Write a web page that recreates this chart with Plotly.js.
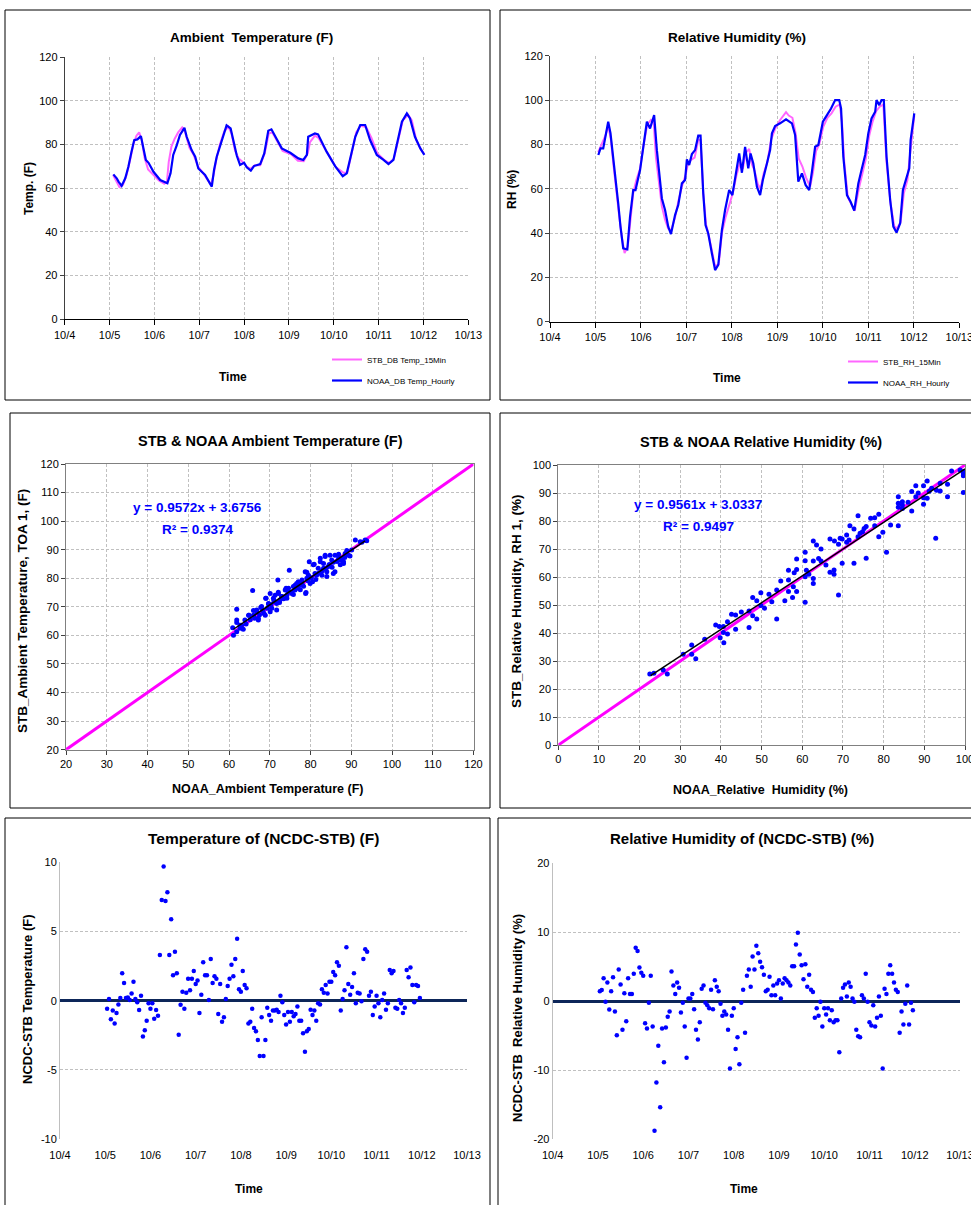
<!DOCTYPE html>
<html><head><meta charset="utf-8">
<script src="https://cdn.plot.ly/plotly-3.0.1.min.js"></script>
<style>html,body{margin:0;padding:0;background:#fff;}</style>
</head><body><div id="chart" style="width:971px;height:1205px;"></div>
<script>
// ---------- DATA ----------
const dayTickVals = [4,5,6,7,8,9,10,11,12,13];
const dayTickText = ['10/4','10/5','10/6','10/7','10/8','10/9','10/10','10/11','10/12','10/13'];

// Ambient temperature, NOAA hourly (time in days of October, value F)
const noaaTempT = [5.085,5.16,5.20,5.27,5.35,5.42,5.49,5.55,5.62,5.70,5.74,5.81,5.87,5.98,6.13,6.29,6.36,6.42,6.50,6.57,6.67,6.72,6.83,6.91,6.98,7.13,7.28,7.33,7.39,7.47,7.54,7.61,7.70,7.76,7.84,7.91,8.00,8.06,8.15,8.22,8.36,8.45,8.54,8.61,8.73,8.84,9.03,9.21,9.32,9.40,9.43,9.58,9.65,9.73,9.84,10.03,10.20,10.29,10.38,10.48,10.59,10.70,10.81,10.96,11.11,11.22,11.33,11.41,11.52,11.63,11.70,11.81,11.93,12.02];
const noaaTempV = [66.3,64.5,63,61,64.5,69.8,76.7,82,82.3,83.8,79.7,72.9,71.6,67.5,63.7,62.2,66.8,75.2,79.7,84.3,87.6,83.5,77.4,74.4,69,66,60.7,68.3,74.4,79.7,83.5,88.7,87.3,82,74.7,70.6,71.6,69.5,68,70.1,71,75.9,86.3,86.9,82.3,78.2,76.2,73.6,72.9,75.2,83.5,85,84.6,81.3,76.7,70.1,65.5,66.8,74.4,83.5,88.9,88.9,82,75.2,72.9,71,72.9,79.7,90.4,94.2,91.9,83.5,78.2,75.2];
// Ambient temperature, STB 15-min
const stbTempT = [5.08,5.15,5.22,5.30,5.38,5.46,5.53,5.60,5.66,5.72,5.78,5.86,5.95,6.10,6.22,6.28,6.32,6.38,6.45,6.53,6.62,6.68,6.78,6.88,6.97,7.10,7.26,7.32,7.38,7.46,7.56,7.65,7.72,7.80,7.88,7.97,8.05,8.14,8.24,8.36,8.46,8.55,8.63,8.74,8.86,9.05,9.20,9.33,9.42,9.47,9.58,9.66,9.76,9.86,10.05,10.22,10.30,10.40,10.50,10.60,10.72,10.84,10.97,11.12,11.24,11.34,11.43,11.54,11.66,11.74,11.84,11.95,12.02];
const stbTempV = [66,63.5,60.5,61.5,66,73,80,84,85.5,82,74,68.5,66.5,63.5,62,63,72,79,82.5,85.5,87.8,86,78.5,75,70,66.5,61.5,66,73,80,86,88.2,85,77,73.5,72,70,68.8,70.5,70.5,76,85,85.5,81.5,77,75.5,72.5,72.3,76,81,84,83,79.5,76,69.5,67,67,76,85.5,88.5,88,83,76,73,71.5,73.5,81,91,93.5,91,82,77.5,75.5];

// Relative humidity, NOAA hourly
const noaaRhT = [5.063,5.11,5.17,5.22,5.28,5.33,5.39,5.45,5.50,5.55,5.61,5.70,5.76,5.83,5.88,5.98,6.05,6.13,6.20,6.24,6.29,6.35,6.40,6.46,6.53,6.60,6.66,6.75,6.82,6.90,6.97,7.01,7.06,7.12,7.19,7.26,7.31,7.37,7.42,7.48,7.56,7.63,7.70,7.78,7.85,7.94,8.01,8.09,8.16,8.22,8.29,8.36,8.41,8.47,8.55,8.62,8.68,8.77,8.84,8.88,8.95,9.06,9.19,9.32,9.39,9.46,9.54,9.62,9.70,9.76,9.83,9.90,10.00,10.09,10.18,10.27,10.36,10.40,10.45,10.53,10.61,10.69,10.78,10.85,10.93,11.00,11.07,11.15,11.18,11.24,11.29,11.34,11.40,11.48,11.55,11.62,11.70,11.76,11.84,11.90,11.93,12.01];
const noaaRhV = [75.2,78.2,78.2,83.5,90.2,85,74.4,62.4,53.4,42.9,33.1,32.6,47.4,59.4,59.4,68.4,78.9,90.2,87.2,89.5,93.2,77.4,68.4,55.6,50.4,42.9,39.5,48.1,52.6,62.4,63.9,73.2,70.7,75.6,77.4,83.9,83.9,57.9,43.6,39.8,30.8,23.3,25.6,41.4,50.4,59.4,57.1,66.9,75.9,67.2,78.9,69.2,75.9,71.4,60.9,57.1,63.9,71.4,77.4,85,88.3,89.5,91.3,89.5,84.2,63.2,66.9,61.7,59.4,67.7,78.9,79.7,90.2,93.2,96.2,100,100,96.2,74.4,57.1,54.1,50.1,62.4,68.4,75.2,85,91.7,94.7,100,97.7,100,100,74.4,54.9,42.9,40.2,44.4,59.4,64.7,69.2,82,94];
// Relative humidity, STB 15-min
const stbRhT = [5.06,5.13,5.22,5.28,5.34,5.40,5.46,5.52,5.58,5.64,5.71,5.77,5.83,5.90,5.98,6.06,6.14,6.22,6.28,6.33,6.39,6.46,6.53,6.60,6.66,6.75,6.83,6.90,6.98,7.03,7.10,7.18,7.26,7.31,7.37,7.43,7.50,7.57,7.63,7.71,7.78,7.86,7.94,8.02,8.10,8.18,8.24,8.30,8.38,8.44,8.50,8.57,8.63,8.70,8.78,8.86,8.95,9.06,9.19,9.25,9.33,9.40,9.47,9.55,9.63,9.72,9.78,9.85,9.92,10.01,10.10,10.19,10.28,10.37,10.42,10.47,10.55,10.63,10.70,10.79,10.87,10.94,11.02,11.09,11.17,11.25,11.33,11.40,11.49,11.57,11.63,11.71,11.78,11.86,11.93,12.01];
const stbRhV = [76.5,80,84,88.5,82,70,58,48,38,31,34,47,58,64,69,80,89,91,90,74,63,52,46,42,41,47,55,61,66,71,73,74,82,82,58,44,38,31,25,26,40,47,52,58,66,72,69,76,78,71,68,62,60,67,72,82,87,91,94.5,93,92,85,73.5,70,65,61,67,77,80,88,92,94,97,98,90,72,56,53,50,60,67,73,84,90,95,97,98,72,53,43,42,45,58,64,78,93];

// Scatter: NOAA (x) vs STB (y) ambient temperature, F
const tempPairs = [[60.9,62.7],[61.1,60.1],[61.9,69.2],[61.9,65.4],[61.9,64.5],[62.7,62.5],[63.1,63.6],[63.9,65.4],[64.8,67.1],[65.8,75.7],[66.0,68.7],[66.8,68.3],[67.2,66],[67.8,69.8],[68.6,67.7],[69.1,73],[69.7,71],[70.1,74.7],[70.1,68.3],[71.3,74.1],[71.7,71.2],[72.1,75.1],[72.9,73.6],[74.0,76.5],[74.2,73],[74.8,82.8],[75.4,75.1],[76.2,77.6],[77.0,78.8],[77.9,78.2],[78.9,75],[79.1,82.1],[79.7,85.8],[79.9,78.2],[80.9,84.9],[81.5,81.1],[82.4,85.8],[83.2,83.5],[83.6,87.6],[84.0,80.6],[84.8,88.1],[85.6,85.6],[86.0,82.3],[86.9,88.4],[87.7,87],[88.1,85.8],[88.9,89.7],[91.0,93.4],[92.6,92.6],[93.8,93.1],
[61.9,61.3],[62.7,63.6],[64.9,67.1],[66,67.1],[66.8,68.9],[67.2,65.4],[68.0,70.1],[68.9,67.1],[69,73],[69.7,71.2],[70.5,69.5],[70.9,73],[71.3,71.8],[71.7,68.9],[72,79.4],[72.1,74.7],[72.5,72.4],[73,73.6],[73.8,75.9],[74.2,74.1],[74.6,76.5],[75.4,74.7],[75.8,77.1],[76.2,75.9],[76.6,78.2],[77.4,77.6],[77.9,79.4],[78.7,82.3],[78.8,74.7],[79.1,80],[79.5,81.1],[80.5,78.8],[80.7,84.7],[81.1,81.7],[81.9,83.5],[82.4,87],[82.8,81.1],[83.2,85.2],[83.6,88.1],[84,82.3],[84.4,84.1],[85.2,86.4],[85.6,81.7],[86,88.1],[86.9,87],[87.3,84.7],[88.1,85.2],[88.5,88.7],[89.3,88.1],[90.1,89.9],[92.2,92.8],[93.4,93.4],
[63.5,62.2],[64.2,64],[65.2,65.5],[66.3,66],[67.5,67.2],[68.3,68.6],[69.4,69.5],[70.3,70.8],[71.0,72.2],[72.4,71.5],[73.4,72.8],[74.5,75.3],[75.8,74.3],[76.8,76.5],[77.5,76],[78.3,77.2],[79.4,79.1],[80.2,80.2],[81.3,79.6],[82.0,81.8],[82.9,82.6],[83.8,83.3],[84.6,84.8],[85.3,83.9],[86.5,85.9],[87.5,86.3],[88.4,87.3],[89.7,87.8]];
// Scatter: NOAA (x) vs STB (y) relative humidity, %
const rhPairs = [[22.5,25.4],[23.5,25.6],[25.8,26.8],[26.8,25.4],[30.7,32.4],[32.8,35.7],[32.8,32.4],[33.8,30.8],[38.7,42.9],[39.6,42.3],[39.8,38.3],[40.6,42.3],[40.6,40.2],[40.7,36.5],[41.6,44],[41.6,39.6],[42.6,46.7],[43.6,46.4],[43.6,41.3],[46.9,47.9],[46.9,42],[47.8,52.7],[47.8,46.2],[48.8,51.5],[48.8,45],[49.8,54.4],[49.8,49.8],[50.7,48.8],[51.8,53.8],[53.7,55.4],[53.7,45],[54.7,58.6],[55.7,51.5],[56.6,62.4],[56.6,58.9],[56.6,54.8],[57.6,52.7],[57.8,56.5],[58.6,66.4],[58.6,62.7],[58.6,54.8],[60.7,68.8],[60.7,65.8],[60.7,60.1],[60.7,51],[61.6,61],[62.7,72.9],[62.7,65.7],[62.7,59.5],[62.7,57.7],[63.5,71.4],[64.6,70],[64.6,65.7],[65.8,64.3],[66.8,73.6],[66.8,61.7],[67.8,61],[67.9,72.9],[68.9,71.7],[68.9,53.6],[69.8,73.6],[69.8,64.9],[70.9,72.4],[70.9,75],[71.7,78.3],[72.7,77.1],[72.7,64.9],[73.7,81.9],[73.7,74.4],[74.8,76.2],[75.7,78],[75.7,66.7],[76.8,81],[77.8,81.2],[77.8,78.3],[78.8,82.4],[78.8,74.4],[79.8,76],[80.7,68.8],[81.7,78.6],[83.6,88.7],[83.6,86.3],[83.6,78.3],[84.6,86.9],[84.6,84.5],[86.9,90.5],[86.9,83.6],[87.9,92.6],[87.9,88.7],[89.8,92.6],[89.8,86],[90.7,94.3],[90.7,88.1],[91.8,91.7],[92.8,73.8],[93.9,93.5],[93.9,90.7],[95.7,88.7],[95.7,93.1],[96.7,97.9],[99.6,97],[99.6,96.2],[99.6,90.2],[84.6,85.7],[89.8,88.3],[93,91],[98.8,98.2],[67.8,62.5],[69.3,73.8],[71.5,73.2],[74.2,75.6],[75.2,77.3],[58.0,61.5],[61.0,62.4],[64.0,66.6],[52.5,51.2],[45.0,47.5],[36.0,37.8],[83.6,84.9],[86.0,86.7],[88.5,90.0],[91.2,90.6],[99.6,97.6]];

// Regression results shown on the charts
const tempFit = {slope:0.9572, intercept:3.6756, r2:0.9374, xmin:61.1, xmax:93.4};
const rhFit = {slope:0.9561, intercept:3.0337, r2:0.9497, xmin:22.7, xmax:100};

// Differences NCDC - STB, hourly starting 10/5 01:00
const diffStartDay = 5 + 1/24;
const tempDiff = [-0.58,0.12,-1.35,-0.72,-1.66,-0.89,-0.27,0.19,1.98,1.28,0.19,0.22,0.05,0.51,1.37,0.12,-0.12,-0.67,0.36,-2.6,-2.14,-1.45,-0.19,-0.58,-0.19,-1.3,-0.67,-1.1,3.3,7.28,9.69,7.2,7.83,3.3,5.88,1.83,3.54,1.98,-2.46,-0.29,0.65,-0.58,0.58,1.59,0.75,1.59,2.14,1.2,1.45,-0.89,0.43,2.77,1.83,1.83,0.05,3.01,1.28,1.76,1.59,-0.96,1.2,-1.52,-1.2,0.12,1.06,1.59,2.6,1.76,3.01,4.48,0.82,0.65,2.14,1.13,0.89,-1.66,-1.52,-0.58,-1.98,-2.22,-2.84,-4.0,-1.2,-4.0,-2.84,-0.51,-1.04,-1.45,-0.72,-0.72,-0.65,-0.82,0.36,-0.12,-1.04,-1.73,-0.82,-1.52,-0.82,-1.13,-0.96,-0.43,-1.45,-1.45,-2.36,-3.69,-2.22,-2.05,-0.65,-1.04,-0.72,-1.45,-0.19,-0.27,0.82,0.58,1.13,0.51,1.37,1.37,2.07,1.83,2.77,2.53,-0.72,0.12,0.75,3.86,1.2,0.43,0.99,1.98,-0.19,0.58,0.51,-0.05,3.01,3.71,3.54,0.36,0.65,-1.04,-0.43,0.36,-0.19,-1.2,0.05,0.51,-0.65,-0.19,2.22,1.98,2.14,-0.51,-0.58,0.05,-0.19,-0.89,-0.51,2.22,1.69,2.39,1.13,-0.12,1.13,1.06,0.19];
const rhDiff = [1.45,1.6,3.34,-0.1,2.71,-1.21,1.45,3.48,-1.5,-4.93,4.6,2.42,-4.16,1.16,-2.9,3.34,1.02,1.02,3.97,7.74,7.26,4.89,4.11,3.68,-3.19,-3.97,-0.24,3.68,-3.68,-18.8,-11.8,-6.48,-15.4,-3.97,-8.85,-3.82,-2.27,-1.5,4.3,2.27,1.02,2.71,1.93,-1.64,-0.24,-3.68,-8.22,0.39,0.39,1.02,-1.16,-4.16,-5.56,-3.05,1.79,2.27,-0.24,-0.58,-1.02,1.64,-1.16,3.05,2.08,1.45,-0.39,-2.13,-1.5,-1.93,-4.16,-9.77,-2.13,-1.02,-6.96,-5.22,-9.14,-0.24,1.64,-4.6,3.68,4.6,2.08,6.48,4.6,8.03,6.96,5.71,4.93,3.82,1.45,1.64,3.53,0.87,2.27,0.87,2.56,3.05,0.39,2.56,3.34,3.05,2.71,2.27,5.08,5.08,8.22,9.92,6.77,5.22,3.19,5.37,2.08,3.82,1.64,1.31,-2.42,-1.02,-2.13,-0.1,-3.68,-1.02,-1.93,-1.02,-2.76,-1.31,-3.05,-2.76,-2.76,-7.4,0.39,1.93,2.42,0.68,2.71,2.08,0.39,-0.1,-4.16,-5.08,-5.22,0.87,0.39,3.97,-0.1,-3.05,-3.53,-0.58,-3.68,-2.42,0.68,-2.13,-9.77,1.79,1.02,3.97,5.22,3.97,2.71,1.64,1.31,-4.6,-1.5,-3.39,-0.39,2.27,-3.39,-0.24,-1.31];

const tempDiffTicks = [-10,-5,0,5,10];
const tempDiffTickText = ['-10','-5','0','5','10'];
const rhDiffTicks = [-20,-10,0,10,20];
const rhDiffTickText = ['-20','-10','0','10','20'];

// ---------- BUILD ----------
const W = 971, H = 1205;
const FONT = 'Liberation Sans, Arial, sans-serif';
const px = v => v / W;
const py = v => 1 - v / H;
const BLUE = '#0000ff', PINK = '#ff66ff', MAG = '#ff00ff';
const GRID = '#c0c0c0';

const diffTimesT = tempDiff.map((_, i) => diffStartDay + i / 24);
const diffTimesR = rhDiff.map((_, i) => diffStartDay + i / 24);

const traces = [
  {x: stbTempT, y: stbTempV, type:'scatter', mode:'lines', line:{color:PINK, width:2}, name:'STB_DB Temp_15Min', xaxis:'x', yaxis:'y', legend:'legend', legendgroup:'a'},
  {x: noaaTempT, y: noaaTempV, type:'scatter', mode:'lines', line:{color:BLUE, width:2.2}, name:'NOAA_DB Temp_Hourly', xaxis:'x', yaxis:'y', legend:'legend', legendgroup:'b'},
  {x: stbRhT, y: stbRhV, type:'scatter', mode:'lines', line:{color:PINK, width:2}, name:'STB_RH_15Min', xaxis:'x2', yaxis:'y2', legend:'legend2', legendgroup:'c'},
  {x: noaaRhT, y: noaaRhV, type:'scatter', mode:'lines', line:{color:BLUE, width:2.2}, name:'NOAA_RH_Hourly', xaxis:'x2', yaxis:'y2', legend:'legend2', legendgroup:'d'},
  // panel 3
  {x:[20,120], y:[20,120], type:'scatter', mode:'lines', line:{color:MAG, width:3}, showlegend:false, xaxis:'x3', yaxis:'y3'},
  {x: tempPairs.map(p=>p[0]), y: tempPairs.map(p=>p[1]), type:'scatter', mode:'markers', marker:{color:BLUE, size:5}, showlegend:false, xaxis:'x3', yaxis:'y3'},
  {x:[tempFit.xmin, tempFit.xmax], y:[tempFit.slope*tempFit.xmin+tempFit.intercept, tempFit.slope*tempFit.xmax+tempFit.intercept], type:'scatter', mode:'lines', line:{color:'#000', width:1.5}, showlegend:false, xaxis:'x3', yaxis:'y3'},
  // panel 4
  {x:[0,100], y:[0,100], type:'scatter', mode:'lines', line:{color:MAG, width:3}, showlegend:false, xaxis:'x4', yaxis:'y4'},
  {x: rhPairs.map(p=>p[0]), y: rhPairs.map(p=>p[1]), type:'scatter', mode:'markers', marker:{color:BLUE, size:5}, showlegend:false, xaxis:'x4', yaxis:'y4'},
  {x:[rhFit.xmin, rhFit.xmax], y:[rhFit.slope*rhFit.xmin+rhFit.intercept, rhFit.slope*rhFit.xmax+rhFit.intercept], type:'scatter', mode:'lines', line:{color:'#000', width:1.5}, showlegend:false, xaxis:'x4', yaxis:'y4'},
  // panel 5, 6
  {x: diffTimesT, y: tempDiff, type:'scatter', mode:'markers', marker:{color:BLUE, size:4.5}, showlegend:false, xaxis:'x5', yaxis:'y5'},
  {x: diffTimesR, y: rhDiff, type:'scatter', mode:'markers', marker:{color:BLUE, size:4.5}, showlegend:false, xaxis:'x6', yaxis:'y6'}
];

const tickFont = {family:FONT, size:11, color:'#000'};
function timeAxis(domain, anchor, extra) {
  return Object.assign({domain, anchor, range:[4,13], tickmode:'array', tickvals:dayTickVals, ticktext:dayTickText,
    showgrid:true, gridcolor:GRID, griddash:'3px,2px', gridwidth:1, zeroline:false,
    showline:true, linecolor:'#000', linewidth:1, ticks:'outside', ticklen:5, tickcolor:'#000',
    tickfont:tickFont, ticklabeloverflow:'allow', fixedrange:true}, extra||{});
}
function valAxis(domain, anchor, range, dtick, extra) {
  return Object.assign({domain, anchor, range, dtick, tick0:0, tickmode:'linear',
    showgrid:true, gridcolor:GRID, griddash:'3px,2px', gridwidth:1, zeroline:false,
    showline:true, linecolor:'#404040', linewidth:1, ticks:'outside', ticklen:4, tickcolor:'#404040',
    tickfont:tickFont, ticklabeloverflow:'allow', fixedrange:true}, extra||{});
}

const layout = {
  width: W, height: H, margin:{l:0,r:0,t:0,b:0}, paper_bgcolor:'#fff', plot_bgcolor:'rgba(0,0,0,0)',
  font:{family:FONT, color:'#000'},
  xaxis: timeAxis([px(64.7), px(468.3)], 'y'),
  yaxis: valAxis([py(319.3), py(57)], 'x', [0,120], 20),
  xaxis2: timeAxis([px(550), px(959.3)], 'y2'),
  yaxis2: valAxis([py(321.7), py(55.7)], 'x2', [0,120], 20),
  xaxis3: valAxis([px(66), px(473.5)], 'y3', [20,120], 10, {mirror:true, linecolor:'#808080'}),
  yaxis3: valAxis([py(749.7), py(464)], 'x3', [20,120], 10, {mirror:true, linecolor:'#808080'}),
  xaxis4: valAxis([px(558.3), px(965)], 'y4', [0,100], 10, {mirror:true, linecolor:'#808080'}),
  yaxis4: valAxis([py(745), py(465)], 'x4', [0,100], 10, {mirror:true, linecolor:'#808080'}),
  xaxis5: timeAxis([px(60), px(467)], 'y5', {showgrid:false, showline:false, ticks:'outside', ticklen:6, tickcolor:'rgba(0,0,0,0)'}),
  yaxis5: valAxis([py(1139), py(862.3)], 'x5', [-10,10], 5, {tickmode:'array', tickvals:tempDiffTicks, ticktext:tempDiffTickText, linecolor:'#bfbfbf', ticks:'', zeroline:true, zerolinecolor:'#0d2659', zerolinewidth:3}),
  xaxis6: timeAxis([px(552.7), px(960)], 'y6', {showgrid:false, showline:false, ticks:'outside', ticklen:6, tickcolor:'rgba(0,0,0,0)'}),
  yaxis6: valAxis([py(1139), py(863.3)], 'x6', [-20,20], 10, {tickmode:'array', tickvals:rhDiffTicks, ticktext:rhDiffTickText, linecolor:'#bfbfbf', ticks:'', zeroline:true, zerolinecolor:'#0d2659', zerolinewidth:3}),
  legend: {x:px(327), y:py(345), xanchor:'left', yanchor:'top', font:{family:FONT, size:8}, bgcolor:'rgba(0,0,0,0)', traceorder:'grouped', tracegroupgap:2, itemwidth:30},
  legend2: {x:px(843), y:py(347), xanchor:'left', yanchor:'top', font:{family:FONT, size:8}, bgcolor:'rgba(0,0,0,0)', traceorder:'grouped', tracegroupgap:2, itemwidth:30},
  shapes: [
    [5,10,490,400],[500,10,980,400],[10,413,490,808],[500,413,980,808],[5,818,490,1215],[498,818,980,1215]
  ].map(r => ({type:'rect', xref:'paper', yref:'paper', x0:px(r[0]), x1:px(r[2]), y0:py(r[3]), y1:py(r[1]), line:{color:'#000', width:1}})),
  annotations: []
};

function ann(text, x, y, size, opts) {
  layout.annotations.push(Object.assign({text, xref:'paper', yref:'paper', x:px(x), y:py(y), xanchor:'center', yanchor:'middle', showarrow:false,
    font:{family:FONT, size, color:'#000'}}, opts||{}));
}
// chart titles
ann('<b>Ambient  Temperature (F)</b>', 251, 37, 13.5);
ann('<b>Relative Humidity (%)</b>', 737, 37, 13.5);
ann('<b>STB &amp; NOAA Ambient Temperature (F)</b>', 270, 441, 14.5);
ann('<b>STB &amp; NOAA Relative Humidity (%)</b>', 761, 442, 14.5);
ann('<b>Temperature of (NCDC-STB) (F)</b>', 263, 838, 15.5);
ann('<b>Relative Humidity of (NCDC-STB) (%)</b>', 742, 838, 15);
// axis titles
ann('<b>Temp. (F)</b>', 29, 189, 12, {textangle:-90});
ann('<b>Time</b>', 233, 377, 12);
ann('<b>RH (%)</b>', 512, 190, 12, {textangle:-90});
ann('<b>Time</b>', 727, 378, 12);
ann('<b>STB_Ambient Temperature, TOA 1, (F)</b>', 22, 611, 13.5, {textangle:-90});
ann('<b>NOAA_Ambient Temperature (F)</b>', 267, 789, 12.5);
ann('<b>STB_Relative Humidity, RH 1, (%)</b>', 516, 601, 13.5, {textangle:-90});
ann('<b>NOAA_Relative  Humidity (%)</b>', 760, 790, 12.5);
ann('<b>NCDC-STB Temperature (F)</b>', 27, 999, 13, {textangle:-90});
ann('<b>Time</b>', 249, 1189, 12);
ann('<b>NCDC-STB  Relative Humidity (%)</b>', 517, 1018, 13, {textangle:-90});
ann('<b>Time</b>', 744, 1189, 12);
// regression equations
const eq = (f) => 'y = ' + f.slope.toFixed(4) + 'x + ' + f.intercept.toFixed(4);
const eqFont = {family:FONT, size:13.5, color:'#0000ff'};
ann('<b>' + eq(tempFit) + '</b>', 197, 507, 13.5, {font:eqFont});
ann('<b>R² = ' + tempFit.r2.toFixed(4) + '</b>', 197, 529, 13.5, {font:eqFont});
ann('<b>' + eq(rhFit) + '</b>', 698, 504, 13.5, {font:eqFont});
ann('<b>R² = ' + rhFit.r2.toFixed(4) + '</b>', 698, 526, 13.5, {font:eqFont});

Plotly.newPlot('chart', traces, layout, {staticPlot:true, displayModeBar:false});
</script></body></html>
